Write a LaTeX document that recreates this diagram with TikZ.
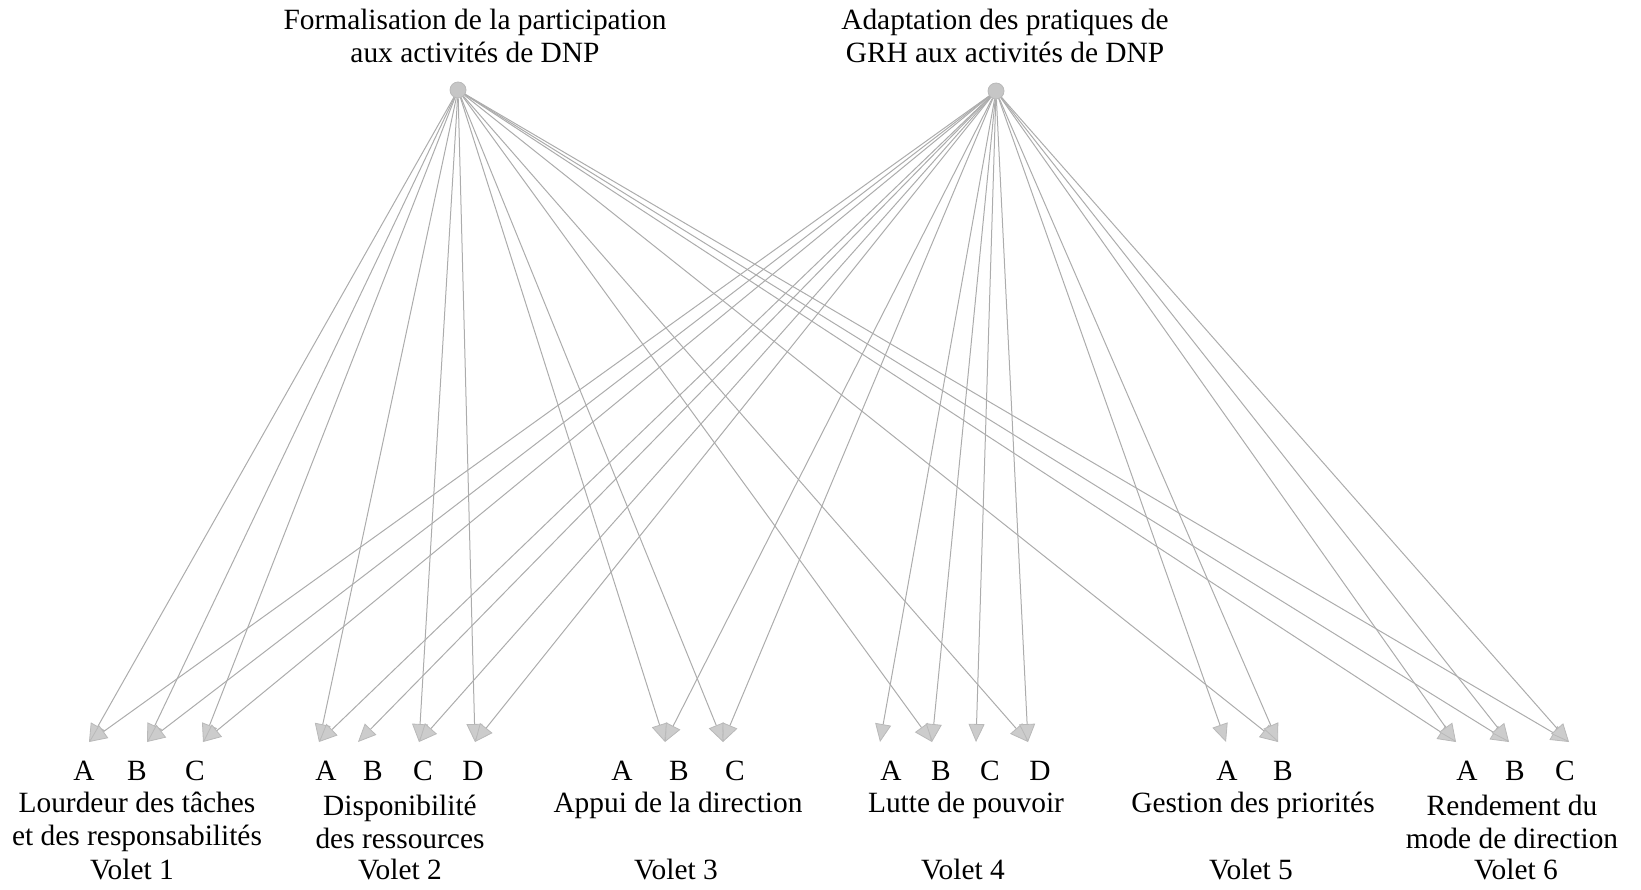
\documentclass[tikz,border=0pt]{standalone}
\usepackage{fontspec}
\setmainfont{Liberation Serif}
\usetikzlibrary{arrows.meta}
\begin{document}
\begin{tikzpicture}[x=0.5pt,y=-0.5pt,
  lbl/.style={font=\fontsize{14.7}{16.5}\selectfont, align=center, inner sep=0pt},
  src/.style={circle, fill=gray!45, draw=gray!55, minimum size=8pt, inner sep=0pt},
  link/.style={draw=gray!65, line width=0.5pt,
    -{Triangle[width=8pt,length=9pt,color=gray!55,fill=gray!40,line width=0.4pt]}}]
\useasboundingbox (0,0) rectangle (1641,889);

% top labels and sources
\node[lbl] (tF) at (475,36) {Formalisation de la participation\\aux activités de DNP};
\node[lbl] (tG) at (1005,36) {Adaptation des pratiques de\\GRH aux activités de DNP};
\node[src] (F) at (458,90) {};
\node[src] (G) at (996,91) {};

% arrow tips
\coordinate (v1a) at (89,742);  \coordinate (v1b) at (147,742); \coordinate (v1c) at (203,742);
\coordinate (v2a) at (319,742); \coordinate (v2b) at (358,742); \coordinate (v2c) at (419,742); \coordinate (v2d) at (475,742);
\coordinate (v3a) at (665,742); \coordinate (v3b) at (723,742);
\coordinate (v4a) at (880,742); \coordinate (v4b) at (932,742); \coordinate (v4c) at (976,742); \coordinate (v4d) at (1028,742);
\coordinate (v5a) at (1226,742); \coordinate (v5b) at (1278,742);
\coordinate (v6a) at (1456,742); \coordinate (v6b) at (1509,742); \coordinate (v6c) at (1569,742);

% connectors
\foreach \t in {v1a,v1b,v1c,v2a,v2c,v2d,v3a,v3b,v4b,v4d,v5b,v6a,v6b,v6c}
  \draw[link] (F) -- (\t);
\foreach \t in {v1a,v1b,v1c,v2a,v2b,v2c,v2d,v3a,v3b,v4a,v4b,v4c,v4d,v5a,v5b,v6a,v6b,v6c}
  \draw[link] (G) -- (\t);

% letters
\foreach \x/\l [count=\i] in {84/A,137/B,195/C,326/A,373/B,423/C,473/D,622/A,679/B,735/C,891/A,941/B,990/C,1040/D,1227/A,1283/B,1467/A,1515/B,1565/C}
  \node[lbl] (L\i) at (\x,771) {\l};

% bottom labels
\node[lbl] (n1) at (137,822) {Lourdeur des tâches\\et des responsabilités};
\node[lbl] (n2) at (400,822) {Disponibilité\\des ressources};
\node[lbl] (n3) at (678,805) {Appui de la direction};
\node[lbl] (n4) at (966,805) {Lutte de pouvoir};
\node[lbl] (n5) at (1253,805) {Gestion des priorités};
\node[lbl] (n6) at (1512,822) {Rendement du\\mode de direction};

\foreach \x [count=\i] in {132,400,676,963,1251,1516}
  \node[lbl] (vol\i) at (\x,870) {Volet \i};
\end{tikzpicture}
\end{document}
